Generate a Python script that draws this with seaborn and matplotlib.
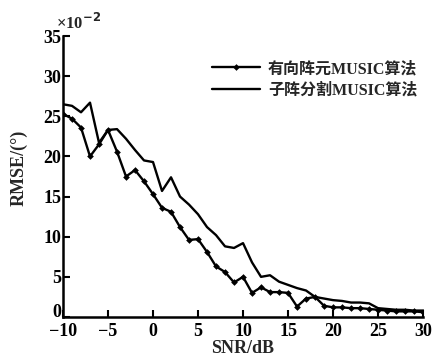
import numpy as np
import pandas as pd
import seaborn as sns
import matplotlib
matplotlib.use("Agg")
import matplotlib.pyplot as plt
from matplotlib.lines import Line2D

snr = list(range(-10, 31))
rmse_directed = [25.3, 24.7, 23.6, 20.0, 21.5, 23.3, 20.6, 17.5, 18.3, 16.9,
                 15.3, 13.6, 13.1, 11.2, 9.6, 9.7, 8.1, 6.3, 5.6, 4.3,
                 5.0, 3.0, 3.7, 3.1, 3.1, 3.0, 1.3, 2.3, 2.5, 1.4,
                 1.2, 1.2, 1.1, 1.1, 1.0, 0.9, 0.8, 0.7, 0.7, 0.7, 0.6]
rmse_subarray = [26.5, 26.3, 25.5, 26.7, 21.7, 23.3, 23.4, 22.2, 20.8, 19.5,
                 19.3, 15.7, 17.4, 15.0, 14.0, 12.8, 11.2, 10.2, 8.8, 8.6,
                 9.2, 6.8, 5.0, 5.2, 4.4, 4.0, 3.6, 3.3, 2.5, 2.3,
                 2.1, 2.0, 1.8, 1.8, 1.7, 1.1, 1.0, 0.9, 0.9, 0.8, 0.8]
labels = ["有向阵元MUSIC算法", "子阵分割MUSIC算法"]
xticks = [-10, -5, 0, 5, 10, 15, 20, 25, 30]
yticks = [0, 5, 10, 15, 20, 25, 30, 35]

df = pd.DataFrame({
    "SNR": snr * 2,
    "RMSE": rmse_directed + rmse_subarray,
    "method": [labels[0]] * len(snr) + [labels[1]] * len(snr),
})

sns.set_style("ticks")
plt.rcParams['font.family'] = ['Liberation Serif', 'Noto Sans CJK SC']
plt.rcParams['font.weight'] = 'bold'

fig = plt.figure(figsize=(4.33, 3.59), dpi=100)
ax = fig.add_axes([0.1455, 0.117, 0.977 - 0.1455, 0.8997 - 0.117])

sns.lineplot(data=df[df.method == labels[0]], x="SNR", y="RMSE", ax=ax,
             color="black", lw=1.7, marker="D", markersize=3.4, markeredgewidth=0,
             label=labels[0], legend=False)
sns.lineplot(data=df[df.method == labels[1]], x="SNR", y="RMSE", ax=ax,
             color="black", lw=1.7, label=labels[1], legend=False)

ax.set_xlim(-10, 30)
ax.set_ylim(0, 35)
ax.set_xticks(xticks)
ax.set_yticks(yticks)
ax.set_xticklabels(["−10" if t == -10 else ("−5" if t == -5 else str(t)) for t in xticks])
ax.tick_params(direction="in", length=5, width=1.5, labelsize=13, colors="black")
ax.tick_params(axis="x", pad=4)
ax.tick_params(axis="y", pad=1)
for lbl in ax.get_xticklabels() + ax.get_yticklabels():
    lbl.set_fontweight("bold")
ax.get_yticklabels()[0].set_verticalalignment("baseline")
for s in ["top", "right"]:
    ax.spines[s].set_visible(False)
for s in ["left", "bottom"]:
    ax.spines[s].set_linewidth(1.8)
    ax.spines[s].set_color("black")

ax.set_xlabel("SNR/dB", fontsize=13, fontweight="bold", labelpad=0)
ax.set_ylabel("RMSE/(°)", fontsize=13, fontweight="bold", labelpad=2)
ax.yaxis.set_label_coords(-0.097, 0.53)

fig.text(56 / 433, 1 - 33 / 359, r"×10$^{-2}$", fontsize=12, fontweight="bold",
         ha="left", va="bottom")

handles = [Line2D([], [], color="black", lw=1.7, marker="D", markersize=3.4,
                  markeredgewidth=0, markevery=[1]),
           Line2D([], [], color="black", lw=1.7)]
ax.legend(handles, labels, loc="upper left", bbox_to_anchor=(204 / 433, 1 - 53 / 359),
          bbox_transform=fig.transFigure, frameon=False,
          handlelength=3.0, handletextpad=0.5, labelspacing=0.35, borderpad=0,
          prop={"weight": "bold", "size": 11.5})

fig.savefig("out.png", dpi=100)
